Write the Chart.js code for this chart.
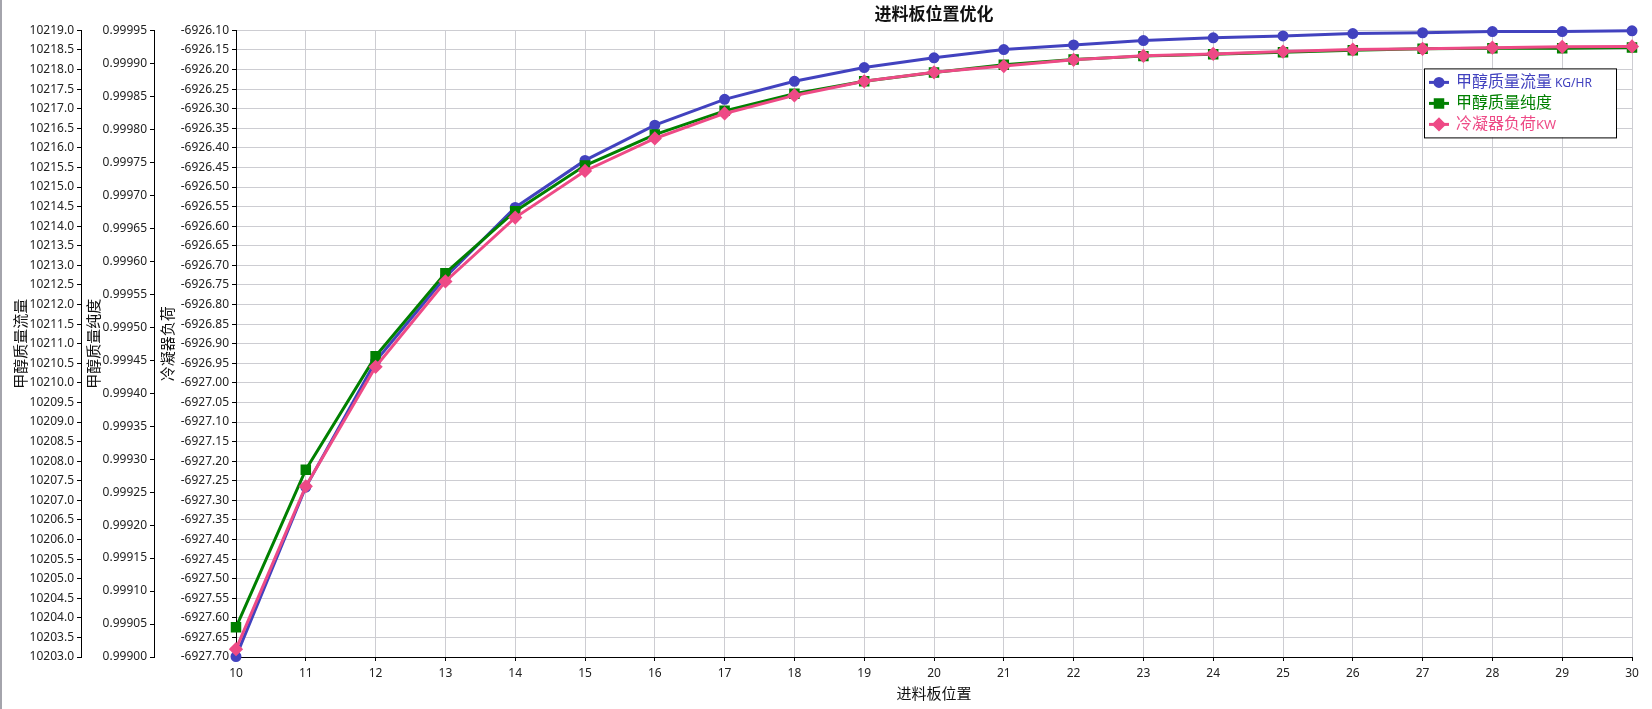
<!DOCTYPE html>
<html>
<head>
<meta charset="utf-8">
<title>进料板位置优化</title>
<script src="https://cdn.jsdelivr.net/npm/chart.js@4.4.1/dist/chart.umd.min.js"></script>
<style>
  html, body { margin: 0; padding: 0; background: #fff; }
  #wrap { position: relative; width: 1652px; height: 709px; }
  #edge { position: absolute; left: 0; top: 0; width: 2px; height: 709px; background: #a4a4ac; }
</style>
</head>
<body>
<div id="wrap">
  <canvas id="chartscreen" width="1652" height="709"></canvas>
  <div id="edge"></div>
</div>
<script>
// values
const feedStages = ['10', '11', '12', '13', '14', '15', '16', '17', '18', '19', '20',
                    '21', '22', '23', '24', '25', '26', '27', '28', '29', '30'];

const methanolFlow = [10203.01, 10207.34, 10210.55, 10212.70, 10214.48, 10215.68, 10216.58,
                      10217.24, 10217.70, 10218.05, 10218.30, 10218.51, 10218.63, 10218.74,
                      10218.81, 10218.86, 10218.92, 10218.94, 10218.97, 10218.97, 10218.99];

const methanolPurity = [0.999045, 0.999284, 0.999456, 0.999582, 0.999676, 0.999745, 0.999792,
                        0.999828, 0.999854, 0.999873, 0.999886, 0.999898, 0.999906, 0.999911,
                        0.999914, 0.999917, 0.999920, 0.999922, 0.999923, 0.999923, 0.999924];

const condenserDuty = [-6927.680, -6927.264, -6926.959, -6926.741, -6926.578, -6926.459, -6926.376,
                       -6926.312, -6926.266, -6926.230, -6926.207, -6926.191, -6926.175, -6926.165,
                       -6926.160, -6926.154, -6926.149, -6926.147, -6926.144, -6926.142, -6926.141];

// axis ranges (min, max, step)
const flowAxis = [10203.0, 10219.0, 0.5];
const purityAxis = [0.99900, 0.99995, 0.00005];
const dutyAxis = [-6927.70, -6926.10, 0.05];

const seriesNames = ['甲醇质量流量', '甲醇质量纯度', '冷凝器负荷'];
const seriesUnits = [' KG/HR', '', 'KW'];

const FONT = "'Noto Sans', 'Noto Sans CJK SC', sans-serif";
const GRID = '#cdcdd2';
const BLUE = '#4242bf';
const GREEN = '#008000';
const PINK = '#ee4a86';

// legend box drawn by hand, so the unit text can be smaller than the name
const legendBox = {
  id: 'legendBox',
  afterDraw(chart) {
    const ctx = chart.ctx;
    const area = chart.chartArea;
    const bw = 192, bh = 69;
    const bx = area.right - bw - 16, by = area.top + 38;
    ctx.save();
    ctx.fillStyle = '#fff';
    ctx.fillRect(bx, by, bw, bh);
    ctx.strokeStyle = '#000';
    ctx.lineWidth = 1;
    ctx.strokeRect(bx + 0.5, by + 0.5, bw, bh);

    chart.data.datasets.forEach(function(ds, i) {
      const cy = by + 14 + i * 21;
      ctx.strokeStyle = ds.borderColor;
      ctx.fillStyle = ds.borderColor;
      ctx.lineWidth = 3;
      ctx.beginPath();
      ctx.moveTo(bx + 5, cy);
      ctx.lineTo(bx + 25, cy);
      ctx.stroke();
      Chart.helpers.drawPoint(ctx, {
        pointStyle: ds.pointStyle, radius: ds.pointRadius, rotation: 0, borderWidth: 1
      }, bx + 15, cy);

      ctx.textBaseline = 'middle';
      ctx.textAlign = 'left';
      ctx.font = '16px ' + FONT;
      ctx.fillText(seriesNames[i], bx + 32, cy);
      const w = ctx.measureText(seriesNames[i]).width;
      ctx.font = (i === 0 ? '12px ' : '13px ') + FONT;
      ctx.fillText(seriesUnits[i], bx + 32 + w, cy + 1);
    });
    ctx.restore();
  }
};

function leftAxis(range, title, weight, width, titlePad, digits, onArea) {
  return {
    position: 'left',
    weight: weight,
    min: range[0],
    max: range[1],
    grid: { drawOnChartArea: onArea, color: GRID, tickColor: '#000', tickLength: 4 },
    border: { color: '#000' },
    ticks: {
      stepSize: range[2],
      autoSkip: false,
      maxTicksLimit: 60,
      padding: 3,
      color: '#222',
      font: { family: FONT, size: 12 },
      callback: v => Number(v).toFixed(digits)
    },
    title: {
      display: true,
      text: title,
      color: '#111',
      font: { family: FONT, size: 15 },
      padding: { top: titlePad, bottom: 0 }
    },
    afterFit: s => { s.width = width; }
  };
}

const chart_canvas = document.getElementById('chartscreen');

new Chart(chart_canvas, {
  type: 'line',
  data: {
    labels: feedStages,
    datasets: [{
      label: seriesNames[0] + seriesUnits[0],
      data: methanolFlow,
      yAxisID: 'yFlow',
      borderColor: BLUE,
      backgroundColor: BLUE,
      borderWidth: 3,
      pointStyle: 'circle',
      pointRadius: 4,
      order: 3,
      clip: false
    }, {
      label: seriesNames[1] + seriesUnits[1],
      data: methanolPurity,
      yAxisID: 'yPurity',
      borderColor: GREEN,
      backgroundColor: GREEN,
      borderWidth: 3,
      pointStyle: 'rect',
      pointRadius: 5.3,
      order: 2,
      clip: false
    }, {
      label: seriesNames[2] + seriesUnits[2],
      data: condenserDuty,
      yAxisID: 'yDuty',
      borderColor: PINK,
      backgroundColor: PINK,
      borderWidth: 3,
      pointStyle: 'rectRot',
      pointRadius: 5,
      order: 1,
      clip: false
    }]
  },
  options: {
    responsive: false,
    animation: false,
    layout: { padding: { left: 0, right: 20, top: 0, bottom: 0 } },
    plugins: {
      legend: { display: false },
      tooltip: { enabled: false },
      title: {
        display: true,
        fullSize: false,
        text: '进料板位置优化',
        color: '#111',
        font: { family: FONT, size: 17, weight: 'bold' },
        padding: { top: 5, bottom: 5 }
      }
    },
    scales: {
      x: {
        grid: { color: GRID, tickColor: '#000', tickLength: 4 },
        border: { color: '#000' },
        ticks: { color: '#222', font: { family: FONT, size: 12 }, padding: 5, maxRotation: 0, autoSkip: false },
        title: {
          display: true,
          text: '进料板位置',
          color: '#111',
          font: { family: FONT, size: 15 },
          padding: { top: 0, bottom: 5 }
        },
        afterFit: s => { s.height = 52; }
      },
      yDuty: leftAxis(dutyAxis, '冷凝器负荷', 1, 82, 6, 2, true),
      yPurity: leftAxis(purityAxis, '甲醇质量纯度', 2, 73, 5, 5, false),
      yFlow: leftAxis(flowAxis, '甲醇质量流量', 3, 81, 13, 1, false)
    }
  },
  plugins: [legendBox]
});
</script>
</body>
</html>
